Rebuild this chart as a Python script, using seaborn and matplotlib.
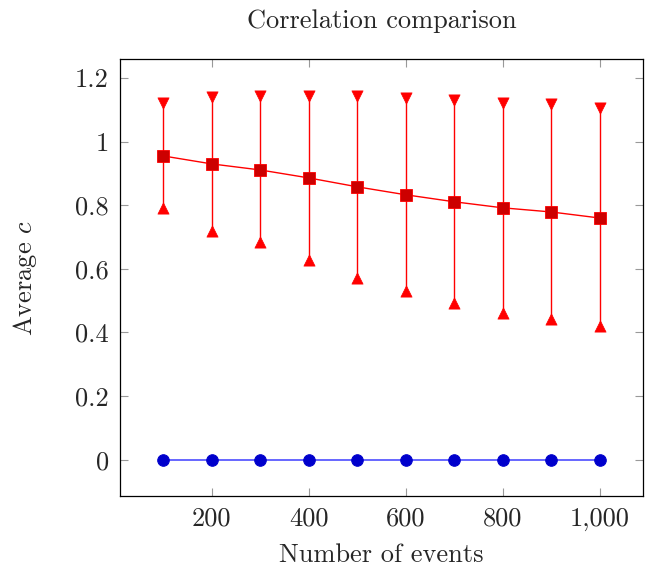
import numpy as np
import pandas as pd
import seaborn as sns
import matplotlib.pyplot as plt
from matplotlib.ticker import FuncFormatter

# -------------------------------
# Data
# -------------------------------
events = [100, 200, 300, 400, 500, 600, 700, 800, 900, 1000]
avg_c = [0.955, 0.930, 0.911, 0.886, 0.858, 0.833, 0.811, 0.792, 0.779, 0.760]
c_upper = [1.122, 1.140, 1.142, 1.145, 1.145, 1.138, 1.131, 1.122, 1.119, 1.107]
c_lower = [0.792, 0.720, 0.683, 0.628, 0.572, 0.532, 0.492, 0.462, 0.443, 0.419]
baseline = [0, 0, 0, 0, 0, 0, 0, 0, 0, 0]

df = pd.DataFrame({'events': events, 'avg': avg_c, 'upper': c_upper,
                   'lower': c_lower, 'base': baseline})

# -------------------------------
# Style
# -------------------------------
sns.set_style('ticks')
plt.rcParams['font.family'] = ['cmr10', 'DejaVu Serif']
plt.rcParams['mathtext.fontset'] = 'cm'
plt.rcParams['axes.formatter.use_mathtext'] = True
plt.rcParams['axes.unicode_minus'] = False

fig = plt.figure(figsize=(6.51, 5.67), dpi=100)
ax = fig.add_axes([0.184, 0.125, 0.804, 0.771])

red_fill = (0.8, 0, 0)
blue_fill = (0, 0, 0.8)

# error bars
ax.vlines(df['events'], df['lower'], df['upper'], color='red', lw=1.0, zorder=2)
sns.scatterplot(data=df, x='events', y='upper', marker='v', s=65, color='red',
                edgecolor='red', linewidth=0.5, ax=ax, zorder=3, legend=False)
sns.scatterplot(data=df, x='events', y='lower', marker='^', s=65, color='red',
                edgecolor='red', linewidth=0.5, ax=ax, zorder=3, legend=False)

# mean line
sns.lineplot(data=df, x='events', y='avg', color='red', lw=1.0, marker='s',
             markersize=8.5, markerfacecolor=red_fill, markeredgecolor='red',
             markeredgewidth=0.6, ax=ax, zorder=4)

# baseline
sns.lineplot(data=df, x='events', y='base', color=(0.4, 0.4, 1.0), lw=1.4, marker='o',
             markersize=8.3, markerfacecolor=blue_fill, markeredgecolor=blue_fill,
             ax=ax, zorder=4)

# -------------------------------
# Axes
# -------------------------------
ax.set_xlim(10, 1090)
ax.set_ylim(-0.1145, 1.26)
ax.set_xticks([200, 400, 600, 800, 1000])
ax.set_yticks([0, 0.2, 0.4, 0.6, 0.8, 1.0, 1.2])
ax.xaxis.set_major_formatter(FuncFormatter(lambda v, p: f'{int(v):,}'))
ax.yaxis.set_major_formatter(FuncFormatter(lambda v, p: f'{v:g}'))
ax.tick_params(direction='in', length=6, width=0.8, color='#999999',
               top=True, right=True, labelsize=19, pad=8)
for s in ax.spines.values():
    s.set_linewidth(0.9)
    s.set_color('black')

ax.set_xlabel('Number of events', fontsize=19, labelpad=9)
ax.set_ylabel('Average $c$', fontsize=19, labelpad=26)
ax.set_title('Correlation comparison', fontsize=19, pad=22)

plt.savefig('out.png', dpi=100)
